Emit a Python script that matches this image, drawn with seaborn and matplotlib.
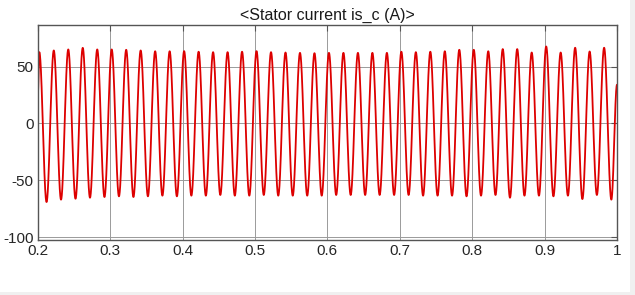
import numpy as np
import pandas as pd
import matplotlib
matplotlib.use("Agg")
import matplotlib.pyplot as plt
import seaborn as sns
from matplotlib.patches import Rectangle

# ---- data ----
title = "<Stator current is_c (A)>"
freq_hz = 50.0
first_peak_t = 0.2022
start_point = (0.2, 22.0)
end_point = (1.0, 34.0)
peak_values = [62.6, 64.1, 65.0, 66.4, 65.0, 65.0, 64.7, 64.1, 63.4, 63.4,
               63.5, 63.0, 62.6, 62.6, 63.0, 63.5, 62.6, 62.3, 62.0, 61.7,
               62.0, 62.0, 62.0, 62.0, 62.0, 63.0, 62.6, 63.0, 63.4, 64.7,
               64.7, 63.4, 65.3, 65.3, 62.3, 67.6, 62.3, 66.5, 63.2, 66.5]
trough_values = [-69.1, -67.0, -66.2, -65.3, -64.7, -64.1, -64.7, -64.1, -63.5, -64.1,
                 -63.5, -63.5, -62.9, -63.5, -63.5, -62.9, -63.5, -63.5, -63.5, -63.5,
                 -62.9, -62.9, -62.9, -62.9, -62.9, -62.9, -63.5, -63.5, -63.5, -64.1,
                 -63.5, -62.9, -65.3, -63.5, -63.5, -64.1, -63.5, -66.5, -62.9, -67.0]
x_ticks = [0.2, 0.3, 0.4, 0.5, 0.6, 0.7, 0.8, 0.9, 1.0]
x_tick_labels = ["0.2", "0.3", "0.4", "0.5", "0.6", "0.7", "0.8", "0.9", "1"]
y_ticks = [-100, -50, 0, 50]
y_tick_labels = ["-100", "-50", "0", "50"]

# ---- build waveform through the extrema ----
period = 1.0 / freq_hz
ext_t = [start_point[0]]
ext_v = [start_point[1]]
for k, (p, q) in enumerate(zip(peak_values, trough_values)):
    ext_t += [first_peak_t + k * period, first_peak_t + k * period + period / 2]
    ext_v += [p, q]
ext_t.append(end_point[0])
ext_v.append(end_point[1])
ext_t = np.array(ext_t)
ext_v = np.array(ext_v)

t = np.linspace(0.2, 1.0, 8001)
idx = np.clip(np.searchsorted(ext_t, t, side="right") - 1, 0, len(ext_t) - 2)
f = (t - ext_t[idx]) / (ext_t[idx + 1] - ext_t[idx])
i_c = ext_v[idx] + (ext_v[idx + 1] - ext_v[idx]) * (1 - np.cos(np.pi * f)) / 2
df = pd.DataFrame({"t": t, "i": i_c})

# ---- plot ----
sns.set_theme(style="white")
plt.rcParams["font.family"] = ["Liberation Sans", "DejaVu Sans"]
plt.rcParams["axes.unicode_minus"] = False

fig = plt.figure(figsize=(6.35, 2.95), dpi=100)
fig.patch.set_facecolor("white")
# window frame strips
fig.add_artist(Rectangle((630 / 635, 0), 5 / 635, 1, transform=fig.transFigure,
                         facecolor="#f0f0f0", edgecolor="none", zorder=0))
fig.add_artist(Rectangle((0, 0), 1, 3 / 295, transform=fig.transFigure,
                         facecolor="#f0f0f0", edgecolor="none", zorder=0))

ax = fig.add_axes([37.7 / 635, 1 - 240 / 295, (617 - 37.7) / 635, (240 - 25) / 295])
sns.lineplot(data=df, x="t", y="i", ax=ax, color="#dd0000", linewidth=1.3)

ax.set_xlim(0.2, 1.0)
ax.set_ylim(-102.5, 86.5)
ax.set_xticks(x_ticks)
ax.set_xticklabels(x_tick_labels)
ax.set_yticks(y_ticks)
ax.set_yticklabels(y_tick_labels)
ax.set_xlabel("")
ax.set_ylabel("")
ax.set_title(title, fontsize=11.5, color="#1a1a1a", pad=4)
ax.grid(True, color="#9a9a9a", linewidth=0.7)
ax.set_axisbelow(True)
for s in ax.spines.values():
    s.set_color("#555555")
    s.set_linewidth(1.0)
ax.tick_params(axis="both", which="both", direction="in", length=4, width=0.8,
               colors="#555555", labelcolor="#262626", labelsize=11,
               top=True, right=True, pad=3)

fig.savefig("out.png", dpi=100)
